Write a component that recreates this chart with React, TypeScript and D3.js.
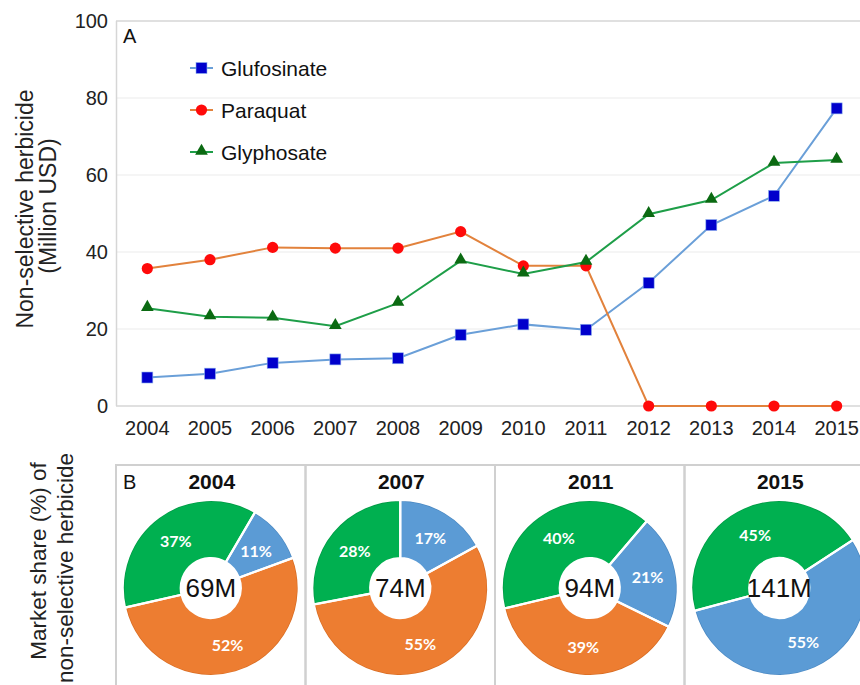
import React from "react";
import * as d3 from "d3";

const years = ["2004","2005","2006","2007","2008","2009","2010","2011","2012","2013","2014","2015"];
const glufosinate = [7.4, 8.4, 11.2, 12.1, 12.4, 18.5, 21.2, 19.8, 32, 47, 54.6, 77.3];
const paraquat = [35.7, 38.0, 41.2, 41.0, 41.0, 45.3, 36.4, 36.4, 0, 0, 0, 0];
const glyphosate = [25.4, 23.2, 22.9, 20.7, 26.7, 37.7, 34.3, 37.4, 49.8, 53.5, 63.1, 63.9];
const yTicks = [0, 20, 40, 60, 80, 100];

const pieYears = ["2004", "2007", "2011", "2015"];
const pieTotals = ["69M", "74M", "94M", "141M"];
const pieGlufosinate = [11, 17, 21, 55];
const pieParaquat = [52, 55, 39, 0];
const pieGlyphosate = [37, 28, 40, 45];
const pieStartDeg = [30.3, 0, 40.5, 56.9];

const FONT = "'Liberation Sans', Arial, Helvetica, sans-serif";

const seriesDefs = [
  { name: "Glufosinate", values: glufosinate, line: "#6a9fd8", marker: "#0000cc", shape: "square" },
  { name: "Paraquat", values: paraquat, line: "#e2823c", marker: "#ff0a0a", shape: "circle" },
  { name: "Glyphosate", values: glyphosate, line: "#1e9e48", marker: "#0b6a12", shape: "triangle" },
];
const pieColors = ["#5b9bd5", "#ed7d31", "#00b050"];
const pieEdge = ["#4a88c2", "#d86c22", "#009a45"];

function Marker({ shape, x, y, color }: { shape: string; x: number; y: number; color: string }) {
  if (shape === "square") {
    return <rect x={x - 5.5} y={y - 5.5} width={11} height={11} fill={color} stroke="#8fb4ee" strokeWidth={0.6} />;
  }
  if (shape === "circle") {
    return <circle cx={x} cy={y} r={5.6} fill={color} />;
  }
  const p = d3.symbol().type(d3.symbolTriangle).size(70)();
  return <path d={p as string} transform={`translate(${x},${y - 1})`} fill={color} />;
}

export default function App() {
  const x = d3.scalePoint<string>().domain(years).range([116, 868]).padding(0.5);
  const y = d3.scaleLinear().domain([0, 100]).range([406, 21]);
  const line = d3
    .line<number>()
    .x((_, i) => x(years[i]) as number)
    .y((d) => y(d));

  const panelLeft = 116;
  const panelW = 189.5;
  const panelTop = 465;
  const cy = 588;
  const rOut = 88;
  const rIn = 30;
  const arc = d3.arc<d3.PieArcDatum<number>>().innerRadius(rIn).outerRadius(rOut);
  const edgeArc = d3.arc<d3.PieArcDatum<number>>().innerRadius(rOut - 1.8).outerRadius(rOut);
  const labelArc = d3.arc<d3.PieArcDatum<number>>().innerRadius(59).outerRadius(59);

  return (
    <svg
      width={860}
      height={685}
      style={{ position: "absolute", left: 0, top: 0, background: "#fff" }}
      fontFamily={FONT}
    >
      <rect x={0} y={0} width={860} height={685} fill="#fff" />
      {yTicks.map((t) => (
        <line
          key={"g" + t}
          x1={116}
          x2={868}
          y1={y(t)}
          y2={y(t)}
          stroke={t === 0 || t === 100 ? "#d6d6d6" : "#ececec"}
          strokeWidth={t === 0 || t === 100 ? 1.5 : 1.2}
        />
      ))}
      <line x1={116.5} x2={116.5} y1={y(100)} y2={y(0)} stroke="#d6d6d6" strokeWidth={1.5} />
      {yTicks.map((t) => (
        <text key={"yt" + t} x={108} y={y(t)} textAnchor="end" dominantBaseline="central" fontSize={20} fill="#222">
          {t}
        </text>
      ))}
      {years.map((yr) => (
        <text key={"xt" + yr} x={x(yr)} y={435} textAnchor="middle" fontSize={20} fill="#222">
          {yr}
        </text>
      ))}
      <text x={123} y={43} fontSize={20} fill="#111">A</text>
      <g transform="translate(33,209) rotate(-90)">
        <text textAnchor="middle" fontSize={23} fill="#222">Non-selective herbicide</text>
      </g>
      <g transform="translate(56,206) rotate(-90)">
        <text textAnchor="middle" fontSize={23} fill="#222">(Million USD)</text>
      </g>
      {seriesDefs.map((s) => (
        <g key={s.name}>
          <path d={line(s.values) as string} fill="none" stroke={s.line} strokeWidth={2} />
          {s.values.map((v, i) => (
            <Marker key={i} shape={s.shape} x={x(years[i]) as number} y={y(v)} color={s.marker} />
          ))}
        </g>
      ))}
      {seriesDefs.map((s, i) => {
        const ly = 68 + i * 42;
        return (
          <g key={"lg" + s.name}>
            <line x1={190} x2={213} y1={ly} y2={ly} stroke={s.line} strokeWidth={2} />
            <Marker shape={s.shape} x={201.5} y={ly} color={s.marker} />
            <text x={221} y={ly} dominantBaseline="central" fontSize={21} fill="#111">
              {s.name}
            </text>
          </g>
        );
      })}

      <g transform="translate(46,561) rotate(-90)">
        <text textAnchor="middle" fontSize={22.5} fill="#222">Market share (%) of</text>
      </g>
      <g transform="translate(72.5,568) rotate(-90)">
        <text textAnchor="middle" fontSize={22.5} fill="#222">non-selective herbicide</text>
      </g>
      {pieYears.map((yr, k) => {
        const left = panelLeft + k * panelW;
        const cx = left + panelW / 2;
        const vals = [pieGlufosinate[k], pieParaquat[k], pieGlyphosate[k]];
        const s = (pieStartDeg[k] * Math.PI) / 180;
        const pie = d3.pie<number>().sort(null).value((d) => d).startAngle(s).endAngle(s + 2 * Math.PI);
        const arcs = pie(vals);
        return (
          <g key={"p" + yr}>
            <rect x={left} y={panelTop} width={panelW} height={260} fill="none" stroke="#d0d0d0" strokeWidth={2} />
            <text x={cx + 1} y={489} textAnchor="middle" fontSize={21} fontWeight="bold" fill="#111">
              {yr}
            </text>
            <g transform={`translate(${cx},${cy})`}>
              {arcs.map((a, j) =>
                a.value > 0 ? <path key={j} d={arc(a) as string} fill={pieColors[j]} /> : null
              )}
              {arcs.map((a, j) =>
                a.value > 0 ? <path key={"e" + j} d={edgeArc(a) as string} fill={pieEdge[j]} /> : null
              )}
              {arcs.map((a, j) =>
                a.value > 0 ? (
                  <path key={"s" + j} d={arc(a) as string} fill="none" stroke="#fff" strokeWidth={2.2} />
                ) : null
              )}
              {arcs.map((a, j) => {
                if (a.value <= 0) return null;
                const [lx, ly] = labelArc.centroid(a);
                return (
                  <text
                    key={"l" + j}
                    x={lx}
                    y={ly}
                    textAnchor="middle"
                    dominantBaseline="central"
                    fontFamily="Lato, 'Open Sans', sans-serif"
                    fontWeight="bold"
                    fontSize={16}
                    fill="#fff"
                  >
                    {a.value}%
                  </text>
                );
              })}
              <text x={0} y={0} textAnchor="middle" dominantBaseline="central" fontSize={26} fill="#111">
                {pieTotals[k]}
              </text>
            </g>
          </g>
        );
      })}
      <text x={123} y={489} fontSize={20} fill="#111">B</text>
    </svg>
  );
}
